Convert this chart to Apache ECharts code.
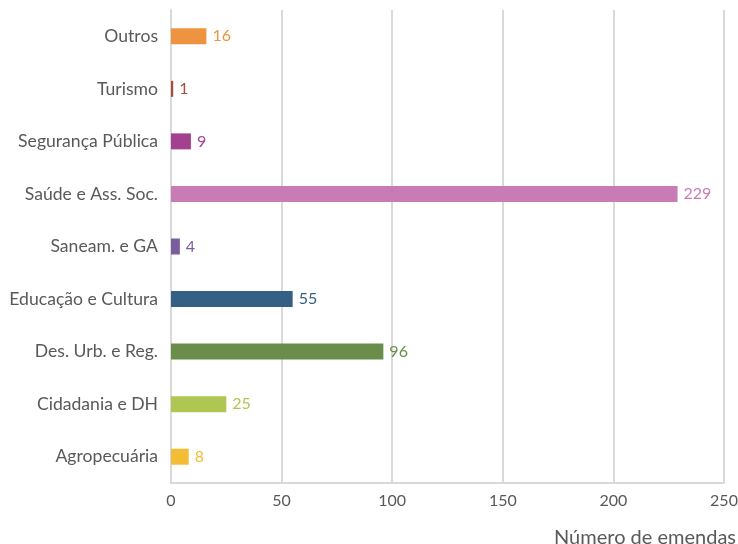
<!DOCTYPE html>
<html>
<head>
<meta charset="utf-8">
<script src="https://cdn.jsdelivr.net/npm/echarts@6/dist/echarts.min.js"></script>
<style>
  html, body { margin: 0; padding: 0; background: #fff; }
  #chart { width: 738px; height: 544px; }
</style>
</head>
<body>
<div id="chart"></div>
<script>
// Emendas por área temática (bottom to top)
const categories = ['Agropecuária', 'Cidadania e DH', 'Des. Urb. e Reg.', 'Educação e Cultura',
  'Saneam. e GA', 'Saúde e Ass. Soc.', 'Segurança Pública', 'Turismo', 'Outros'];
const values = [8, 25, 96, 55, 4, 229, 9, 1, 16];
const colors = ['#F2BD35', '#AFC653', '#6A8D4A', '#356086', '#7B5C9E',
  '#C77CB5', '#A3408F', '#A84B3A', '#EE9440'];
const xTicks = [0, 50, 100, 150, 200, 250];

const FONT = 'Lato, "Open Sans", sans-serif';
const chart = echarts.init(document.getElementById('chart'), null, { renderer: 'canvas' });

chart.setOption({
  animation: false,
  grid: { left: 171, right: 14, top: 10, height: 473, containLabel: false, outerBoundsMode: 'none' },
  xAxis: {
    type: 'value',
    min: xTicks[0],
    max: xTicks[xTicks.length - 1],
    interval: xTicks[1] - xTicks[0],
    name: 'Número de emendas',
    nameLocation: 'end',
    nameGap: 0,
    nameTextStyle: {
      fontFamily: FONT, fontSize: 20, color: '#595959',
      align: 'right', verticalAlign: 'top', padding: [45, -12, 0, 0]
    },
    axisLine: { show: true, lineStyle: { color: '#d9d9d9', width: 2 } },
    axisTick: { show: false },
    axisLabel: { fontFamily: FONT, fontSize: 16, color: '#595959', margin: 10 },
    splitLine: { show: true, lineStyle: { color: '#d9d9d9', width: 2 } }
  },
  yAxis: {
    type: 'category',
    data: categories,
    axisLine: { show: true, lineStyle: { color: '#d9d9d9', width: 2 } },
    axisTick: { show: false },
    axisLabel: { fontFamily: FONT, fontSize: 17.6, color: '#595959', margin: 13 }
  },
  series: [{
    type: 'bar',
    data: values.map((v, i) => ({ value: v, itemStyle: { color: colors[i] },
      label: { color: colors[i] } })),
    barWidth: 16,
    label: {
      show: true, position: 'right', distance: 6,
      fontFamily: FONT, fontSize: 16
    }
  }]
});
</script>
</body>
</html>
